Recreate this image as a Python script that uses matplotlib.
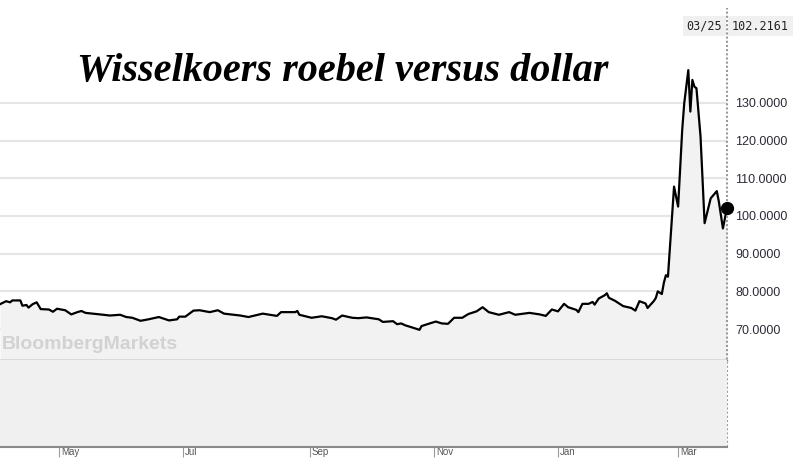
import matplotlib
matplotlib.use("Agg")
import matplotlib.pyplot as plt
import matplotlib.dates as mdates
import matplotlib.transforms as mtransforms
import pandas as pd

# RUB per USD
dates = [
    "2021-04-02", "2021-04-05", "2021-04-07", "2021-04-08", "2021-04-12", "2021-04-13",
    "2021-04-15", "2021-04-16", "2021-04-18", "2021-04-20", "2021-04-22", "2021-04-26",
    "2021-04-28", "2021-04-30", "2021-05-04", "2021-05-07", "2021-05-10", "2021-05-12",
    "2021-05-14", "2021-05-21", "2021-05-26", "2021-05-31", "2021-06-03", "2021-06-06",
    "2021-06-10", "2021-06-14", "2021-06-19", "2021-06-24", "2021-06-28", "2021-06-29",
    "2021-07-02", "2021-07-06", "2021-07-09", "2021-07-14", "2021-07-18", "2021-07-21",
    "2021-07-29", "2021-08-02", "2021-08-09", "2021-08-16", "2021-08-18", "2021-08-25",
    "2021-08-26", "2021-08-27", "2021-09-02", "2021-09-07", "2021-09-12", "2021-09-14",
    "2021-09-17", "2021-09-22", "2021-09-25", "2021-09-29", "2021-10-05", "2021-10-07",
    "2021-10-12", "2021-10-14", "2021-10-16", "2021-10-18", "2021-10-21", "2021-10-25",
    "2021-10-26", "2021-10-30", "2021-11-02", "2021-11-05", "2021-11-08", "2021-11-11",
    "2021-11-15", "2021-11-18", "2021-11-22", "2021-11-25", "2021-11-28", "2021-12-03",
    "2021-12-08", "2021-12-11", "2021-12-18", "2021-12-23", "2021-12-26", "2021-12-29",
    "2022-01-01", "2022-01-04", "2022-01-06", "2022-01-10", "2022-01-11", "2022-01-13",
    "2022-01-16", "2022-01-18", "2022-01-19", "2022-01-21", "2022-01-24", "2022-01-25",
    "2022-01-26", "2022-01-29", "2022-02-02", "2022-02-06", "2022-02-08", "2022-02-10",
    "2022-02-13", "2022-02-14", "2022-02-17", "2022-02-18", "2022-02-19", "2022-02-21",
    "2022-02-22", "2022-02-23", "2022-02-24", "2022-02-26", "2022-02-27", "2022-03-01",
    "2022-03-03", "2022-03-04", "2022-03-06", "2022-03-07", "2022-03-08", "2022-03-09",
    "2022-03-10", "2022-03-12", "2022-03-14", "2022-03-16", "2022-03-17", "2022-03-20",
    "2022-03-21", "2022-03-23", "2022-03-25",
]
rates = [
    76.6, 77.4, 77.1, 77.6, 77.6, 76.2,
    76.4, 75.7, 76.6, 77.1, 75.3, 75.2,
    74.6, 75.4, 75.0, 73.9, 74.5, 74.8,
    74.3, 73.9, 73.6, 73.8, 73.2, 73.0,
    72.2, 72.6, 73.2, 72.3, 72.6, 73.3,
    73.3, 74.9, 75.0, 74.5, 75.0, 74.1,
    73.6, 73.2, 74.1, 73.5, 74.5, 74.5,
    74.8, 73.8, 73.0, 73.4, 72.9, 72.5,
    73.6, 73.0, 72.9, 73.1, 72.6, 71.9,
    72.1, 71.3, 71.5, 71.0, 70.5, 69.8,
    70.8, 71.5, 72.0, 71.5, 71.4, 73.0,
    73.0, 74.0, 74.7, 75.8, 74.5, 73.8,
    74.5, 73.8, 74.3, 73.9, 73.5, 75.2,
    74.7, 76.7, 75.8, 75.1, 74.5, 76.7,
    76.7, 77.2, 76.5, 78.1, 79.0, 79.5,
    78.3, 77.5, 76.1, 75.6, 74.9, 77.4,
    76.8, 75.6, 77.4, 78.2, 80.0, 79.3,
    82.3, 84.3, 83.9, 99.8, 107.8, 102.5,
    122.8, 129.9, 138.7, 127.7, 136.1, 134.3,
    133.9, 121.1, 98.1, 102.5, 104.7, 106.6,
    103.8, 96.7, 102.2161,
]
y_ticks = [70, 80, 90, 100, 110, 120, 130]
month_ticks = [5, 7, 9, 11, 1, 3]
title = "Wisselkoers roebel versus dollar"

x = pd.to_datetime(dates)
W, H = 804, 463
fig = plt.figure(figsize=(W / 100, H / 100), dpi=100)

ax_w = 727 / W
ax = fig.add_axes([0, 103 / H, ax_w, 360 / H])
ax2 = fig.add_axes([0, 16 / H, ax_w, 87 / H], sharex=ax)

ymin = 61.8
ax.set_ylim(ymin, 157.3)
ax.set_xlim(pd.Timestamp("2021-04-02"), pd.Timestamp("2022-03-25"))

# ----- price panel -----
ax.fill_between(x, rates, ymin, color="#f2f2f2", lw=0, zorder=1)
ax.plot(x, rates, color="black", lw=1.6, zorder=3)
ax.plot(x[-1], rates[-1], "o", color="black", ms=8.5, clip_on=False, zorder=7)

ax.set_yticks(y_ticks)
ax.set_yticklabels([f"{v:.4f}" for v in y_ticks])
ax.yaxis.tick_right()
ax.tick_params(axis="y", length=0, pad=6, labelsize=9, labelcolor="#2b2b3a")
for lab in ax.get_yticklabels():
    lab.set_fontfamily("Liberation Sans")
ax.grid(axis="y", color="#e6e6e6", lw=1.5, zorder=2)
ax.tick_params(axis="x", which="both", length=0, labelbottom=False)
for s in ["top", "right", "left"]:
    ax.spines[s].set_visible(False)
ax.spines["bottom"].set_color("#7a7a7a")
ax.spines["bottom"].set_linewidth(1)
ax.set_axisbelow(True)

ax.text(0.003, 0.02, "BloombergMarkets", transform=ax.transAxes,
        fontsize=14, fontweight="bold", color="#d2d2d2",
        family="Liberation Sans", ha="left", va="bottom", zorder=2)

# dotted cursor line at the last date
ax.axvline(x[-1], ymin=-0.242, ymax=0.978, color="#9a9a9a", lw=1.5,
           ls=(0, (1, 1)), clip_on=False, zorder=5)
# solid divider between the date and value readouts
ax.axvline(x[-1], ymin=1.08, ymax=1.125, color="#7a7a7a", lw=2.5,
           clip_on=False, zorder=6)

# ----- lower (empty) panel -----
ax2.set_facecolor("#f0f0f0")
ax2.set_yticks([])
for s in ["top", "right", "left"]:
    ax2.spines[s].set_visible(False)
ax2.spines["bottom"].set_color("#8a8a8a")
ax2.spines["bottom"].set_linewidth(1.5)
ax2.xaxis.set_major_locator(mdates.MonthLocator(bymonth=month_ticks))
ax2.xaxis.set_major_formatter(mdates.DateFormatter("%b"))
ax2.tick_params(axis="x", direction="out", length=7, width=0.8, color="#9a9a9a",
                labelsize=7, labelcolor="#555555", pad=-7)
offset = mtransforms.ScaledTranslation(2 / 100, 0, fig.dpi_scale_trans)
for lab in ax2.get_xticklabels():
    lab.set_ha("left")
    lab.set_fontfamily("Liberation Sans")
    lab.set_transform(lab.get_transform() + offset)

# title
fig.text(343 / W, 1 - 72 / H, title, fontsize=29, fontweight="bold",
         fontstyle="italic", family="Liberation Serif", ha="center", va="center")

# date / value readout box
box = dict(boxstyle="square,pad=0.3", fc="#f0f0f0", ec="none")
fig.text(722 / W, 1 - 26 / H, x[-1].strftime("%m/%d"), fontsize=8.5,
         family="DejaVu Sans Mono", color="#222222", ha="right", va="center", bbox=box)
fig.text(732 / W, 1 - 26 / H, f"{rates[-1]:.4f}", fontsize=8.5,
         family="DejaVu Sans Mono", color="#222222", ha="left", va="center", bbox=box)

fig.savefig("out.png", dpi=100, facecolor="white")
